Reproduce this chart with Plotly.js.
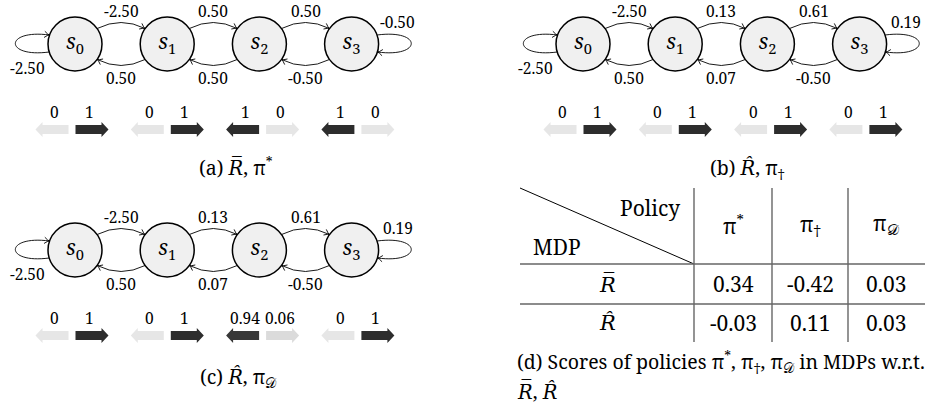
<!DOCTYPE html>
<html><head><meta charset="utf-8">
<script src="https://cdn.plot.ly/plotly-3.0.1.min.js"></script>
<style>html,body{margin:0;padding:0;background:#fff}</style>
</head><body><div id="chart" style="width:925px;height:406px"></div>
<script>
// ---------------- data ----------------
const states = ['s0', 's1', 's2', 's3'];
const rBarForward  = [-2.50, 0.50, 0.50];   // s0->s1, s1->s2, s2->s3
const rBarBackward = [0.50, 0.50, -0.50];   // s1->s0, s2->s1, s3->s2
const rBarSelf     = [-2.50, -0.50];        // s0 loop, s3 loop
const rHatForward  = [-2.50, 0.13, 0.61];
const rHatBackward = [0.50, 0.07, -0.50];
const rHatSelf     = [-2.50, 0.19];
const piStarLeft    = [0, 0, 1, 1];
const piStarRight   = [1, 1, 0, 0];
const piDaggerLeft  = [0, 0, 0, 0];
const piDaggerRight = [1, 1, 1, 1];
const piDLeft       = [0, 0, 0.94, 0];
const piDRight      = [1, 1, 0.06, 1];
const DAG = '<span style="font-family:DejaVu Serif">†</span>';
const RBAR = '<span style="font-family:DejaVu Serif"><i>R\u0305</i></span>';
const RHAT = '<span style="font-family:DejaVu Serif"><i>R\u0302</i></span>';
const PI_STAR = 'π<sup>*</sup>', PI_DAG = 'π<sub>' + DAG + '</sub>', PI_D = 'π<sub>𝒟</sub>';
const policyNames = [PI_STAR, PI_DAG, PI_D];
const mdpNames    = [RBAR, RHAT];
const scoreRBar = [0.34, -0.42, 0.03];
const scoreRHat = [-0.03, 0.11, 0.03];

// ---------------- helpers ----------------
const FONT = 'Noto Serif';
const shapes = [], annotations = [], traces = [];
const STATE_X0 = 75, STATE_DX = 92.2, STATE_Y = 44, R = 27, ANG = 35 * Math.PI / 180;
const PAIR_X0 = 72, PAIR_DX = 95.3, ARROW_Y = 129.5, PLABEL_Y = 112;
const LABEL_SIZE = 15.5, CAP_SIZE = 19.5, TABLE_SIZE = 21;

function lbl(x, y, text, size, extra) {
  annotations.push(Object.assign({x: x, y: y, xref: 'x', yref: 'y', text: text, showarrow: false,
    xanchor: 'center', yanchor: 'middle', font: {family: FONT, size: size, color: '#000'}}, extra || {}));
}
function line(path, w, c) {
  shapes.push({type: 'path', xref: 'x', yref: 'y', path: path, line: {color: c || '#000', width: w}});
}
function fmt(v) { return v.toFixed(2); }
function tip(tx, ty, dx, dy) {
  const L = Math.hypot(dx, dy), bx = -dx / L, by = -dy / L, len = 6, a = 0.55;
  const c = Math.cos(a), s = Math.sin(a);
  const p1x = tx + len * (bx * c - by * s), p1y = ty + len * (bx * s + by * c);
  const p2x = tx + len * (bx * c + by * s), p2y = ty + len * (-bx * s + by * c);
  line(`M ${p1x} ${p1y} Q ${tx + bx * 1.5} ${ty + by * 1.5} ${tx} ${ty} Q ${tx + bx * 1.5} ${ty + by * 1.5} ${p2x} ${p2y}`, 0.9);
}
function grayOf(p) { const g = Math.round(230 - p * 185); return `rgb(${g},${g},${g})`; }
function blockArrow(x0, x1, y, dir, color) {
  const sh = 4.5, hh = 7.5, hl = 7;
  let path;
  if (dir > 0) {
    path = `M ${x0} ${y - sh} L ${x1 - hl} ${y - sh} L ${x1 - hl} ${y - hh} L ${x1} ${y} L ${x1 - hl} ${y + hh} L ${x1 - hl} ${y + sh} L ${x0} ${y + sh} Z`;
  } else {
    path = `M ${x1} ${y - sh} L ${x0 + hl} ${y - sh} L ${x0 + hl} ${y - hh} L ${x0} ${y} L ${x0 + hl} ${y + hh} L ${x0 + hl} ${y + sh} L ${x1} ${y + sh} Z`;
  }
  shapes.push({type: 'path', xref: 'x', yref: 'y', path: path, fillcolor: color, line: {width: 0}});
}

function drawPanel(p) {
  const xs = states.map((_, i) => p.ox + STATE_X0 + i * STATE_DX);
  const cy = p.oy + STATE_Y;
  traces.push({type: 'scatter', mode: 'markers+text', x: xs, y: xs.map(() => cy),
    text: states.map(s => `<i>${s[0]}</i><sub>${s.slice(1)}</sub>`),
    textposition: 'middle center', textfont: {family: FONT, size: 21, color: '#000'},
    marker: {size: 54, color: '#f0f0f0', line: {color: '#000', width: 1.5}},
    hoverinfo: 'skip', showlegend: false, cliponaxis: false});
  for (let i = 0; i < states.length - 1; i++) {
    const xa = xs[i] + R * Math.cos(ANG), xb = xs[i + 1] - R * Math.cos(ANG);
    const mx = (xa + xb) / 2;
    const yt = cy - R * Math.sin(ANG), ct = yt - 12;
    line(`M ${xa} ${yt} Q ${mx} ${ct} ${xb} ${yt}`, 0.9);
    tip(xb, yt, xb - mx, yt - ct);
    lbl(mx, p.oy + 11, fmt(p.fwd[i]), LABEL_SIZE);
    const yb = cy + R * Math.sin(ANG), cb = yb + 12;
    line(`M ${xb} ${yb} Q ${mx} ${cb} ${xa} ${yb}`, 0.9);
    tip(xa, yb, xa - mx, yb - cb);
    lbl(mx, p.oy + 78, fmt(p.bwd[i]), LABEL_SIZE);
  }
  const x0 = xs[0], x3 = xs[3];
  line(`M ${x0 - 25.8} ${cy + 8} C ${x0 - 71} ${cy + 14}, ${x0 - 71} ${cy - 15}, ${x0 - 25.5} ${cy - 9}`, 0.9);
  tip(x0 - 25.5, cy - 9, 45.5, 6);
  lbl(x0 - 48, p.oy + 68, fmt(p.self[0]), LABEL_SIZE);
  line(`M ${x3 + 25.5} ${cy - 9} C ${x3 + 71} ${cy - 15}, ${x3 + 71} ${cy + 14}, ${x3 + 25.8} ${cy + 8}`, 0.9);
  tip(x3 + 25.8, cy + 8, -45.2, -6);
  lbl(x3 + 46, p.oy + 22, fmt(p.self[1]), LABEL_SIZE);
  for (let i = 0; i < states.length; i++) {
    const pc = p.ox + PAIR_X0 + i * PAIR_DX, ay = p.oy + ARROW_Y;
    blockArrow(pc - 36.5, pc - 3.5, ay, -1, grayOf(p.left[i]));
    blockArrow(pc + 3.5, pc + 36.5, ay, 1, grayOf(p.right[i]));
    lbl(pc - 17.5, p.oy + PLABEL_Y, String(p.left[i]), LABEL_SIZE);
    lbl(pc + 17.5, p.oy + PLABEL_Y, String(p.right[i]), LABEL_SIZE);
  }
  lbl(p.capX, p.capY, p.caption, CAP_SIZE);
}

drawPanel({ox: 0, oy: 0, fwd: rBarForward, bwd: rBarBackward, self: rBarSelf,
  left: piStarLeft, right: piStarRight, capX: 236, capY: 166, caption: '(a) ' + RBAR + ', ' + PI_STAR});
drawPanel({ox: 508, oy: 0, fwd: rHatForward, bwd: rHatBackward, self: rHatSelf,
  left: piDaggerLeft, right: piDaggerRight, capX: 747, capY: 168, caption: '(b) ' + RHAT + ', ' + PI_DAG});
drawPanel({ox: 0, oy: 206, fwd: rHatForward, bwd: rHatBackward, self: rHatSelf,
  left: piDLeft, right: piDRight, capX: 238, capY: 377, caption: '(c) ' + RHAT + ', ' + PI_D});

const colX = [694, 772, 848, 923];
const tTop = 188, tHead = 264, tRow = 304, tBot = 342, tLeft = 520;
line(`M ${tLeft} ${tTop} L ${colX[0]} ${tHead}`, 1);
line(`M ${tLeft} ${tHead} L 925 ${tHead}`, 1.4, '#666');
line(`M ${tLeft} ${tRow} L 925 ${tRow}`, 1.4, '#666');
colX.slice(0, 3).forEach(x => line(`M ${x} ${tTop} L ${x} ${tBot}`, 1.4, '#666'));
lbl(650, 208, 'Policy', TABLE_SIZE);
lbl(557, 247, 'MDP', TABLE_SIZE);
const rowsY = [284, 323];
const scoreRows = [scoreRBar, scoreRHat];
policyNames.forEach((n, j) => lbl((colX[j] + colX[j + 1]) / 2, 224, n, TABLE_SIZE));
mdpNames.forEach((n, r) => {
  lbl(607, rowsY[r], n, TABLE_SIZE);
  scoreRows[r].forEach((v, j) => lbl((colX[j] + colX[j + 1]) / 2, rowsY[r], fmt(v), TABLE_SIZE));
});
lbl(515, 361, '(d) Scores of policies ' + PI_STAR + ', ' + PI_DAG + ', ' + PI_D + ' in MDPs w.r.t.', CAP_SIZE, {xanchor: 'left'});
lbl(515, 391, RBAR + ', ' + RHAT, CAP_SIZE, {xanchor: 'left'});

const layout = {
  width: 925, height: 406, margin: {l: 0, r: 0, t: 0, b: 0},
  font: {family: FONT},
  paper_bgcolor: '#fff', plot_bgcolor: '#fff', showlegend: false,
  xaxis: {range: [0, 925], visible: false, fixedrange: true},
  yaxis: {range: [406, 0], visible: false, fixedrange: true},
  shapes: shapes, annotations: annotations
};
Plotly.newPlot('chart', traces, layout, {staticPlot: true, displayModeBar: false});
</script></body></html>
